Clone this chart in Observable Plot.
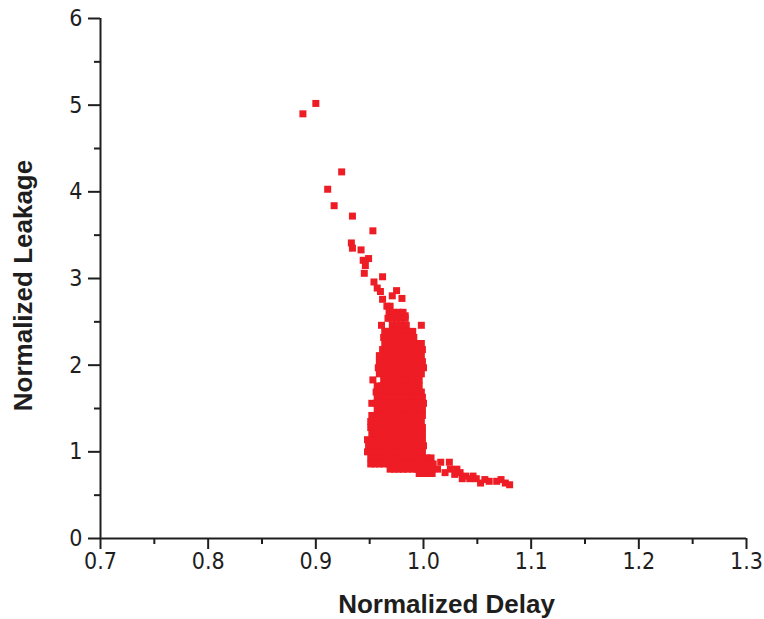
<!DOCTYPE html>
<html>
<head>
<meta charset="utf-8">
<script src="https://cdn.jsdelivr.net/npm/d3@7"></script>
<script src="https://cdn.jsdelivr.net/npm/@observablehq/plot@0.6"></script>
<style>
  html, body { margin: 0; padding: 0; background: #fff; }
  #chart { width: 764px; height: 619px; }
</style>
</head>
<body>
<div id="chart"></div>
<script>
// Axis ticks
const xTicks = [0.7, 0.8, 0.9, 1.0, 1.1, 1.2, 1.3];
const xMinorTicks = [0.75, 0.85, 0.95, 1.05, 1.15, 1.25];
const yTicks = [0, 1, 2, 3, 4, 5, 6];
const yMinorTicks = [0.5, 1.5, 2.5, 3.5, 4.5, 5.5];

// Sparse upper-left points
const upperDelay   = [0.900, 0.888, 0.924, 0.911, 0.917, 0.934, 0.953, 0.933, 0.934, 0.942, 0.949, 0.944, 0.946, 0.945, 0.962, 0.954, 0.957, 0.960, 0.975, 0.971, 0.980, 0.962, 0.983];
const upperLeakage = [5.02,  4.90,  4.23,  4.03,  3.84,  3.72,  3.55,  3.41,  3.35,  3.33,  3.23,  3.21,  3.15,  3.06,  3.02,  2.96,  2.89,  2.85,  2.86,  2.80,  2.77,  2.76,  2.57];

// Dense cluster: leakage level and the delays observed at that level
const clusterLeakage = [2.68, 2.61, 2.54, 2.46, 2.39, 2.32, 2.25, 2.18, 2.11, 2.04, 1.97, 1.90, 1.83, 1.76, 1.69, 1.63, 1.56, 1.49, 1.42, 1.35, 1.28, 1.21, 1.14, 1.07, 1.00, 0.93, 0.86, 0.80, 0.75];
const clusterDelay = [
  [0.966, 0.969],
  [0.968, 0.972, 0.977, 0.981],
  [0.967, 0.971, 0.975, 0.979, 0.983],
  [0.961, 0.971, 0.975, 0.979, 0.984, 0.998],
  [0.964, 0.968, 0.972, 0.977, 0.981, 0.985, 0.990],
  [0.963, 0.967, 0.971, 0.976, 0.980, 0.984, 0.988, 0.991],
  [0.964, 0.968, 0.972, 0.977, 0.981, 0.985, 0.989, 0.994, 0.998],
  [0.962, 0.966, 0.971, 0.975, 0.979, 0.983, 0.988, 0.992, 0.996, 0.999],
  [0.959, 0.963, 0.968, 0.972, 0.976, 0.981, 0.985, 0.989, 0.993, 0.998],
  [0.959, 0.964, 0.968, 0.973, 0.977, 0.981, 0.986, 0.990, 0.994, 0.999],
  [0.958, 0.962, 0.967, 0.971, 0.975, 0.980, 0.984, 0.988, 0.993, 0.997, 1.000],
  [0.959, 0.963, 0.967, 0.972, 0.976, 0.980, 0.985, 0.989, 0.993, 0.998],
  [0.953, 0.963, 0.967, 0.972, 0.976, 0.980, 0.985, 0.989, 0.993, 0.996],
  [0.957, 0.961, 0.966, 0.970, 0.974, 0.979, 0.983, 0.987, 0.992, 0.996],
  [0.956, 0.960, 0.965, 0.969, 0.973, 0.978, 0.982, 0.986, 0.991, 0.995, 0.998],
  [0.957, 0.961, 0.965, 0.970, 0.974, 0.978, 0.983, 0.987, 0.991, 0.996, 0.999],
  [0.952, 0.956, 0.961, 0.965, 0.969, 0.974, 0.978, 0.982, 0.987, 0.991, 0.995, 1.000],
  [0.957, 0.961, 0.965, 0.970, 0.974, 0.978, 0.983, 0.987, 0.991, 0.996, 0.999],
  [0.952, 0.956, 0.960, 0.965, 0.969, 0.973, 0.978, 0.982, 0.986, 0.991, 0.995, 0.999],
  [0.951, 0.955, 0.960, 0.964, 0.968, 0.973, 0.977, 0.981, 0.986, 0.990, 0.994, 0.998],
  [0.951, 0.956, 0.960, 0.964, 0.969, 0.973, 0.977, 0.982, 0.986, 0.990, 0.995, 0.999],
  [0.952, 0.956, 0.961, 0.965, 0.969, 0.974, 0.978, 0.982, 0.987, 0.991, 0.995, 0.999],
  [0.948, 0.953, 0.957, 0.961, 0.966, 0.970, 0.974, 0.979, 0.983, 0.987, 0.992, 0.996, 0.999],
  [0.949, 0.953, 0.958, 0.962, 0.966, 0.971, 0.975, 0.979, 0.984, 0.988, 0.992, 0.997, 1.000],
  [0.948, 0.952, 0.957, 0.961, 0.965, 0.970, 0.974, 0.978, 0.983, 0.987, 0.991, 0.996, 0.999],
  [0.951, 0.955, 0.960, 0.964, 0.968, 0.973, 0.977, 0.981, 0.986, 0.990, 0.994, 0.999, 1.003, 1.007],
  [0.951, 0.955, 0.959, 0.963, 0.968, 0.972, 0.976, 0.981, 0.985, 0.989, 0.994, 0.998, 1.002, 1.007],
  [0.969, 0.973, 0.977, 0.981, 0.985, 0.990, 0.994, 0.998, 1.003, 1.008],
  [0.996, 1.000, 1.004, 1.008]
];

// Low-leakage tail to the right
const tailDelay   = [1.009, 1.013, 1.016, 1.020, 1.024, 1.025, 1.029, 1.031, 1.034, 1.036, 1.039, 1.043, 1.046, 1.049, 1.053, 1.057, 1.061, 1.068, 1.072, 1.076, 1.080];
const tailLeakage = [0.86,  0.80,  0.88,  0.76,  0.88,  0.80,  0.74,  0.80,  0.76,  0.69,  0.72,  0.69,  0.72,  0.69,  0.64,  0.68,  0.66,  0.66,  0.68,  0.64,  0.62];

const points = [
  ...upperDelay.map((d, i) => ({delay: d, leakage: upperLeakage[i]})),
  ...clusterLeakage.flatMap((l, i) => clusterDelay[i].map(d => ({delay: d, leakage: l}))),
  ...tailDelay.map((d, i) => ({delay: d, leakage: tailLeakage[i]}))
];

const tickFont = "'Liberation Sans Narrow', 'DejaVu Sans Condensed', 'Liberation Sans', sans-serif";
const titleFont = "'Liberation Sans', Arial, sans-serif";
const ink = "#1e1e1e";
const red = "#ee1c25";

const chart = Plot.plot({
  width: 764,
  height: 619,
  marginLeft: 100,
  marginRight: 18,
  marginTop: 18,
  marginBottom: 81,
  style: {background: "#fff"},
  x: {domain: [0.7, 1.3]},
  y: {domain: [0, 6]},
  marks: [
    Plot.dot(points, {x: "delay", y: "leakage", symbol: "square", r: 3.95, fill: red, stroke: "none"}),
    Plot.axisX({ticks: xTicks, tickSize: 11, tickPadding: 3, strokeWidth: 2, stroke: ink, fill: ink,
      tickFormat: d3.format(".1f"), fontSize: 23, fontFamily: tickFont, label: null}),
    Plot.axisX({ticks: xMinorTicks, tickSize: 6, strokeWidth: 2, stroke: ink, tickFormat: () => "", label: null}),
    Plot.axisY({ticks: yTicks, tickSize: 12, tickPadding: 6, strokeWidth: 2, stroke: ink, fill: ink,
      tickFormat: d3.format("d"), fontSize: 23, fontFamily: tickFont, label: null}),
    Plot.axisY({ticks: yMinorTicks, tickSize: 6, strokeWidth: 2, stroke: ink, tickFormat: () => "", label: null}),
    Plot.ruleY([0], {stroke: ink, strokeWidth: 2}),
    Plot.ruleX([0.7], {stroke: ink, strokeWidth: 2}),
    Plot.text(["Normalized Delay"], {frameAnchor: "bottom", dx: 23, dy: 66, lineAnchor: "middle", textAnchor: "middle",
      fontSize: 26, fontWeight: "bold", fontFamily: titleFont, fill: ink}),
    Plot.text(["Normalized Leakage"], {frameAnchor: "left", dx: -77, dy: 7, rotate: -90, lineAnchor: "middle", textAnchor: "middle",
      fontSize: 26, fontWeight: "bold", fontFamily: titleFont, fill: ink})
  ]
});
document.getElementById("chart").appendChild(chart);
</script>
</body>
</html>
